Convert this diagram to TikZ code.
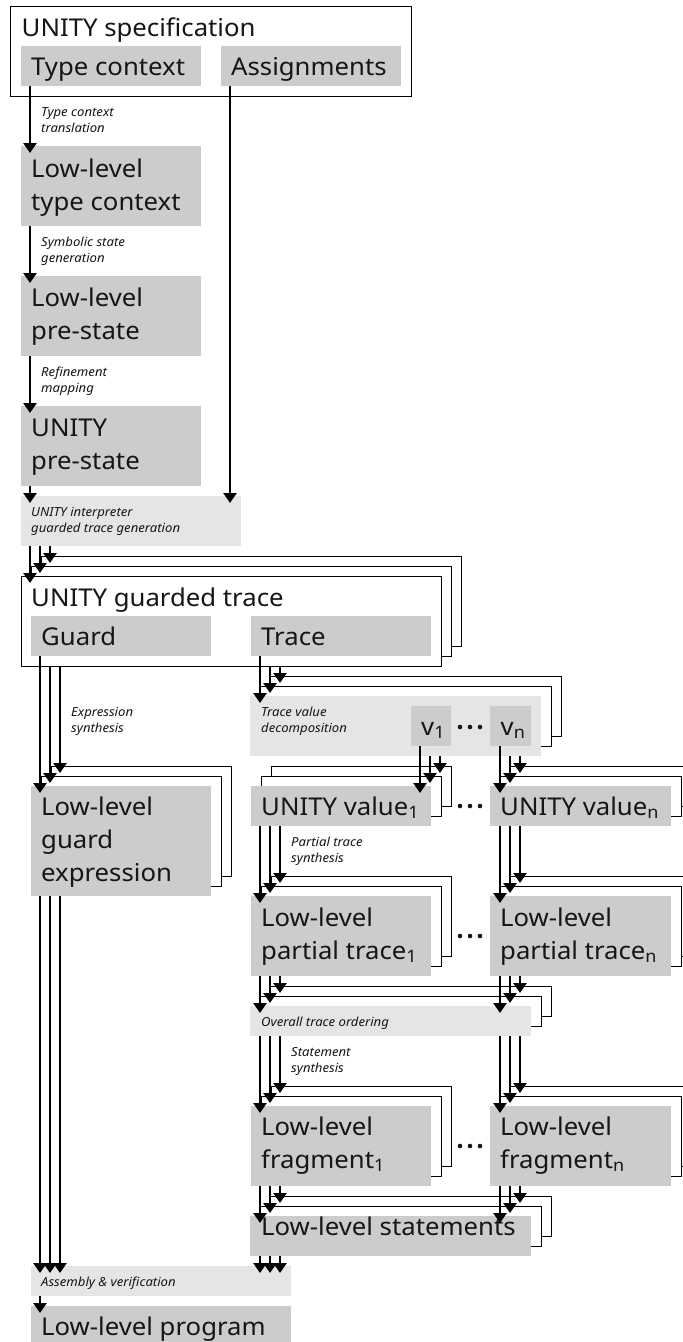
\documentclass[tikz,border=0pt]{standalone}
\usepackage{fontspec}
\setmainfont{Noto Sans}[FakeStretch=1.05]
\usetikzlibrary{arrows.meta}
\definecolor{cDark}{HTML}{CCCCCC}
\definecolor{cLight}{HTML}{E5E5E5}
\definecolor{cText}{HTML}{161616}
\newcommand\backs[5]{%
  \node[outbox, minimum width=#3pt, minimum height=#4pt] (#5c) at ({#1+20},{#2-20}) {};
  \node[outbox, minimum width=#3pt, minimum height=#4pt] (#5b) at ({#1+10},{#2-10}) {};}
\begin{document}
\begin{tikzpicture}[x=1pt,y=-1pt,
  big/.style={font=\fontsize{24.5}{33}\selectfont, text=cText, inner sep=0pt, anchor=base west},
  small/.style={font=\fontsize{12.5}{16}\selectfont\itshape, text=cText, inner sep=0pt, anchor=base west},
  darkbox/.style={fill=cDark, draw=none, inner sep=0pt, outer sep=0pt, anchor=north west},
  lightbox/.style={fill=cLight, draw=none, inner sep=0pt, outer sep=0pt, anchor=north west},
  outbox/.style={fill=white, draw=black, line width=1pt, inner sep=0pt, outer sep=0pt, anchor=north west},
  arr/.style={line width=2.6pt, -{Triangle[width=13pt,length=10pt]}},
  dot/.style={fill=cText},
]
\useasboundingbox (0,0) rectangle (683,1342);
\clip (0,0) rectangle (683,1342);
\fill[white] (0,0) rectangle (683,1342);

% ---- top column
\node[outbox, minimum width=401pt, minimum height=90pt] (spec) at (10,6) {};
\node[darkbox, minimum width=180pt, minimum height=40pt] (tc) at (21,46) {};
\node[darkbox, minimum width=180pt, minimum height=40pt] (asg) at (221,46) {};
\node[darkbox, minimum width=180pt, minimum height=80pt] (lltc) at (21,146) {};
\node[darkbox, minimum width=180pt, minimum height=80pt] (llps) at (21,276) {};
\node[darkbox, minimum width=180pt, minimum height=80pt] (ups) at (21,406) {};
\node[lightbox, minimum width=220pt, minimum height=50pt] (interp) at (21,496) {};

% ---- guarded trace stack
\backs{21}{576}{420}{90}{gt}
\node[outbox, minimum width=420pt, minimum height=90pt] (gt) at (21,576) {};
\node[darkbox, minimum width=180pt, minimum height=40pt] (guard) at (31,616) {};
\node[darkbox, minimum width=180pt, minimum height=40pt] (trace) at (251,616) {};

% ---- trace value decomposition
\backs{250}{696}{291}{60}{tvd}
\node[lightbox, minimum width=291pt, minimum height=60pt] (tvd) at (250,696) {};
\node[darkbox, minimum width=40pt, minimum height=40pt] (v1) at (411,706) {};
\node[darkbox, minimum width=41pt, minimum height=40pt] (vn) at (490,706) {};

% ---- guard expression
\backs{31}{786}{180}{110}{lge}
\node[darkbox, minimum width=180pt, minimum height=110pt] (lge) at (31,786) {};

% ---- values
\backs{251}{786}{180}{40}{uv1}
\node[darkbox, minimum width=180pt, minimum height=40pt] (uv1) at (251,786) {};
\backs{490}{786}{181}{40}{uvn}
\node[darkbox, minimum width=181pt, minimum height=40pt] (uvn) at (490,786) {};

% ---- partial traces
\backs{251}{896}{180}{80}{pt1}
\node[darkbox, minimum width=180pt, minimum height=80pt] (pt1) at (251,896) {};
\backs{490}{896}{181}{80}{ptn}
\node[darkbox, minimum width=181pt, minimum height=80pt] (ptn) at (490,896) {};

% ---- overall trace ordering
\backs{250}{1006}{281}{30}{ot}
\node[lightbox, minimum width=281pt, minimum height=30pt] (ot) at (250,1006) {};

% ---- fragments
\backs{251}{1106}{180}{80}{fr1}
\node[darkbox, minimum width=180pt, minimum height=80pt] (fr1) at (251,1106) {};
\backs{490}{1106}{181}{80}{frn}
\node[darkbox, minimum width=181pt, minimum height=80pt] (frn) at (490,1106) {};

% ---- statements
\backs{250}{1216}{281}{40}{st}
\node[darkbox, minimum width=281pt, minimum height=40pt] (st) at (250,1216) {};

% ---- assembly and program
\node[lightbox, minimum width=260pt, minimum height=30pt] (asm) at (31,1266) {};
\node[darkbox, minimum width=260pt, minimum height=40pt] (prog) at (31,1306) {};

% ---- texts (big)
\node[big] (t01) at (21.5,36) {UNITY specification};
\node[big] (t02) at (31,75) {Type context};
\node[big] (t03) at (231,75) {Assignments};
\node[big] (t04) at (31,177) {Low-level};
\node[big] (t05) at (31,210) {type context};
\node[big] (t06) at (31,306) {Low-level};
\node[big] (t07) at (31,339) {pre-state};
\node[big] (t08) at (31,436) {UNITY};
\node[big] (t09) at (31,469) {pre-state};
\node[big] (t10) at (31,606) {UNITY guarded trace};
\node[big] (t11) at (41,645) {Guard};
\node[big] (t12) at (261,645) {Trace};
\node[big] (t13) at (421,735) {v\textsubscript{1}};
\node[big] (t14) at (500.5,735) {v\textsubscript{n}};
\node[big] (t15) at (41,815) {Low-level};
\node[big] (t16) at (41,848) {guard};
\node[big] (t17) at (41,881) {expression};
\node[big] (t18) at (261,815) {UNITY value\textsubscript{1}};
\node[big] (t19) at (500,815) {UNITY value\textsubscript{n}};
\node[big] (t20) at (261,926) {Low-level};
\node[big] (t21) at (261,959) {partial trace\textsubscript{1}};
\node[big] (t22) at (500,926) {Low-level};
\node[big] (t23) at (500,959) {partial trace\textsubscript{n}};
\node[big] (t24) at (261,1135) {Low-level};
\node[big] (t25) at (261,1168) {fragment\textsubscript{1}};
\node[big] (t26) at (500,1135) {Low-level};
\node[big] (t27) at (500,1168) {fragment\textsubscript{n}};
\node[big] (t28) at (261,1235) {Low-level statements};
\node[big] (t29) at (41,1335) {Low-level program};

% ---- texts (small italic)
\node[small] (s01) at (41,116) {Type context};
\node[small] (s02) at (41,132) {translation};
\node[small] (s03) at (41,246) {Symbolic state};
\node[small] (s04) at (41,262) {generation};
\node[small] (s05) at (41,376) {Refinement};
\node[small] (s06) at (41,392) {mapping};
\node[small] (s07) at (31,516) {UNITY interpreter};
\node[small] (s08) at (31,532) {guarded trace generation};
\node[small] (s09) at (71,716) {Expression};
\node[small] (s10) at (71,732) {synthesis};
\node[small] (s11) at (261,716) {Trace value};
\node[small] (s12) at (261,732) {decomposition};
\node[small] (s13) at (291,846) {Partial trace};
\node[small] (s14) at (291,862) {synthesis};
\node[small] (s15) at (261,1026) {Overall trace ordering};
\node[small] (s16) at (291,1056) {Statement};
\node[small] (s17) at (291,1072) {synthesis};
\node[small] (s18) at (41,1286) {Assembly \& verification};

% ---- ellipsis dots
\foreach \yy in {727,806,936,1146} {
  \fill[dot] (460,\yy) circle (2.3);
  \fill[dot] (470,\yy) circle (2.3);
  \fill[dot] (480,\yy) circle (2.3);
}

% ---- arrows: top column
\draw[arr] ([xshift=9pt]tc.south west) -- ([xshift=9pt,yshift=-7pt]lltc.north west);
\draw[arr] ([xshift=9pt]lltc.south west) -- ([xshift=9pt,yshift=-7pt]llps.north west);
\draw[arr] ([xshift=9pt]llps.south west) -- ([xshift=9pt,yshift=-7pt]ups.north west);
\draw[arr] ([xshift=9pt]ups.south west) -- ([xshift=9pt,yshift=-7pt]interp.north west);
\draw[arr] ([xshift=9pt]asg.south west) -- ([xshift=209pt,yshift=-7pt]interp.north west);

% interpreter -> guarded trace stack
\draw[arr] ([xshift=9pt]interp.south west) -- ([xshift=9pt,yshift=-7pt]gt.north west);
\draw[arr] ([xshift=19pt]interp.south west) -- ([xshift=9pt,yshift=-7pt]gtb.north west);
\draw[arr] ([xshift=29pt]interp.south west) -- ([xshift=9pt,yshift=-7pt]gtc.north west);

% guard -> guard expression stack
\draw[arr] ([xshift=9pt]guard.south west) -- ([xshift=9pt,yshift=-7pt]lge.north west);
\draw[arr] ([xshift=29pt]gt.south west) -- ([xshift=9pt,yshift=-7pt]lgeb.north west);
\draw[arr] ([xshift=39pt]gt.south west) -- ([xshift=9pt,yshift=-7pt]lgec.north west);

% trace -> decomposition stack
\draw[arr] ([xshift=9pt]trace.south west) -- ([xshift=10pt,yshift=-7pt]tvd.north west);
\draw[arr] ([xshift=249pt]gt.south west) -- ([xshift=10pt,yshift=-7pt]tvdb.north west);
\draw[arr] ([xshift=259pt]gt.south west) -- ([xshift=10pt,yshift=-7pt]tvdc.north west);

% v1 -> value1 stack, vn -> valuen stack
\draw[arr] ([xshift=9pt]v1.south west) -- ([xshift=169pt,yshift=-7pt]uv1.north west);
\draw[arr] ([xshift=180pt]tvd.south west) -- ([xshift=169pt,yshift=-7pt]uv1b.north west);
\draw[arr] ([xshift=190pt]tvd.south west) -- ([xshift=169pt,yshift=-7pt]uv1c.north west);
\draw[arr] ([xshift=10pt]vn.south west) -- ([xshift=10pt,yshift=-7pt]uvn.north west);
\draw[arr] ([xshift=260pt]tvd.south west) -- ([xshift=10pt,yshift=-7pt]uvnb.north west);
\draw[arr] ([xshift=270pt]tvd.south west) -- ([xshift=10pt,yshift=-7pt]uvnc.north west);

% values -> partial traces
\draw[arr] ([xshift=9pt]uv1.south west) -- ([xshift=9pt,yshift=-7pt]pt1.north west);
\draw[arr] ([xshift=19pt]uv1.south west) -- ([xshift=9pt,yshift=-7pt]pt1b.north west);
\draw[arr] ([xshift=29pt]uv1.south west) -- ([xshift=9pt,yshift=-7pt]pt1c.north west);
\draw[arr] ([xshift=10pt]uvn.south west) -- ([xshift=10pt,yshift=-7pt]ptn.north west);
\draw[arr] ([xshift=20pt]uvn.south west) -- ([xshift=10pt,yshift=-7pt]ptnb.north west);
\draw[arr] ([xshift=30pt]uvn.south west) -- ([xshift=10pt,yshift=-7pt]ptnc.north west);

% partial traces -> overall ordering
\draw[arr] ([xshift=9pt]pt1.south west) -- ([xshift=10pt,yshift=-7pt]ot.north west);
\draw[arr] ([xshift=19pt]pt1.south west) -- ([xshift=10pt,yshift=-7pt]otb.north west);
\draw[arr] ([xshift=29pt]pt1.south west) -- ([xshift=10pt,yshift=-7pt]otc.north west);
\draw[arr] ([xshift=10pt]ptn.south west) -- ([xshift=250pt,yshift=-7pt]ot.north west);
\draw[arr] ([xshift=20pt]ptn.south west) -- ([xshift=250pt,yshift=-7pt]otb.north west);
\draw[arr] ([xshift=30pt]ptn.south west) -- ([xshift=250pt,yshift=-7pt]otc.north west);

% overall ordering -> fragments
\draw[arr] ([xshift=10pt]ot.south west) -- ([xshift=9pt,yshift=-7pt]fr1.north west);
\draw[arr] ([xshift=20pt]ot.south west) -- ([xshift=9pt,yshift=-7pt]fr1b.north west);
\draw[arr] ([xshift=30pt]ot.south west) -- ([xshift=9pt,yshift=-7pt]fr1c.north west);
\draw[arr] ([xshift=250pt]ot.south west) -- ([xshift=10pt,yshift=-7pt]frn.north west);
\draw[arr] ([xshift=260pt]ot.south west) -- ([xshift=10pt,yshift=-7pt]frnb.north west);
\draw[arr] ([xshift=270pt]ot.south west) -- ([xshift=10pt,yshift=-7pt]frnc.north west);

% fragments -> statements
\draw[arr] ([xshift=9pt]fr1.south west) -- ([xshift=10pt,yshift=-7pt]st.north west);
\draw[arr] ([xshift=19pt]fr1.south west) -- ([xshift=10pt,yshift=-7pt]stb.north west);
\draw[arr] ([xshift=29pt]fr1.south west) -- ([xshift=10pt,yshift=-7pt]stc.north west);
\draw[arr] ([xshift=10pt]frn.south west) -- ([xshift=250pt,yshift=-7pt]st.north west);
\draw[arr] ([xshift=20pt]frn.south west) -- ([xshift=250pt,yshift=-7pt]stb.north west);
\draw[arr] ([xshift=30pt]frn.south west) -- ([xshift=250pt,yshift=-7pt]stc.north west);

% guard expression, statements -> assembly
\draw[arr] ([xshift=9pt]lge.south west) -- ([xshift=9pt,yshift=-7pt]asm.north west);
\draw[arr] ([xshift=19pt]lge.south west) -- ([xshift=19pt,yshift=-7pt]asm.north west);
\draw[arr] ([xshift=29pt]lge.south west) -- ([xshift=29pt,yshift=-7pt]asm.north west);
\draw[arr] ([xshift=10pt]st.south west) -- ([xshift=229pt,yshift=-7pt]asm.north west);
\draw[arr] ([xshift=20pt]st.south west) -- ([xshift=239pt,yshift=-7pt]asm.north west);
\draw[arr] ([xshift=30pt]st.south west) -- ([xshift=249pt,yshift=-7pt]asm.north west);

% assembly -> program
\draw[arr] ([xshift=9pt]asm.south west) -- ([xshift=9pt,yshift=-7pt]prog.north west);
\end{tikzpicture}
\end{document}
